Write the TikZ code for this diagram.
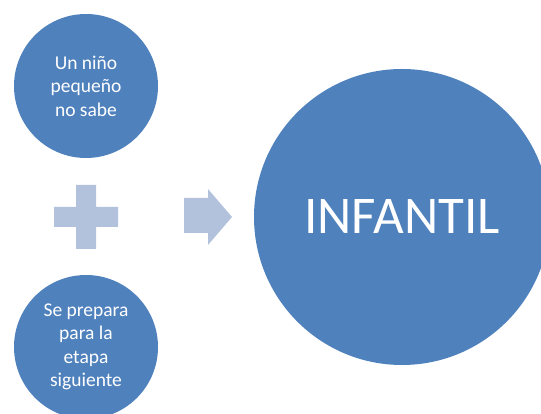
\documentclass[tikz,border=0pt]{standalone}
\usepackage{fontspec}
\setmainfont{Carlito}
\usepackage{tikz}
\definecolor{bolablue}{RGB}{79,129,189}
\definecolor{signblue}{RGB}{179,194,220}
\tikzset{bola/.style={circle,fill=bolablue,text=white,align=center,inner sep=0pt},
  signo/.style={fill=signblue,draw=none}}
\begin{document}
\begin{tikzpicture}[x=1pt,y=1pt]
          \clip (0,0) rectangle (541,414);
          \useasboundingbox (0,0) rectangle (541,414);
          \def\r{72}

          \node[bola,minimum size=2*\r,font=\fontsize{19.5}{23.5}\selectfont] (nino) at (86,328)
            {Un niño\\pequeño\\no sabe};
          \node[bola,minimum size=2*\r,font=\fontsize{19.5}{23.5}\selectfont] (etapa) at (86,67)
            {Se prepara\\para la\\etapa\\siguiente};
          \node[bola,minimum size=296,font=\fontsize{53}{60}\selectfont] (infantil) at (402,197)
            {INFANTIL};

          % signo mas
          \fill[signo] (76,229) -- (96,229) -- (96,207) -- (118,207) -- (118,187)
            -- (96,187) -- (96,165) -- (76,165) -- (76,187) -- (54,187)
            -- (54,207) -- (76,207) -- cycle;
          % flecha
          \fill[signo] (184,216) -- (208,216) -- (208,225) -- (232,197)
            -- (208,169) -- (208,181) -- (184,181) -- cycle;
        \end{tikzpicture}
\end{document}
